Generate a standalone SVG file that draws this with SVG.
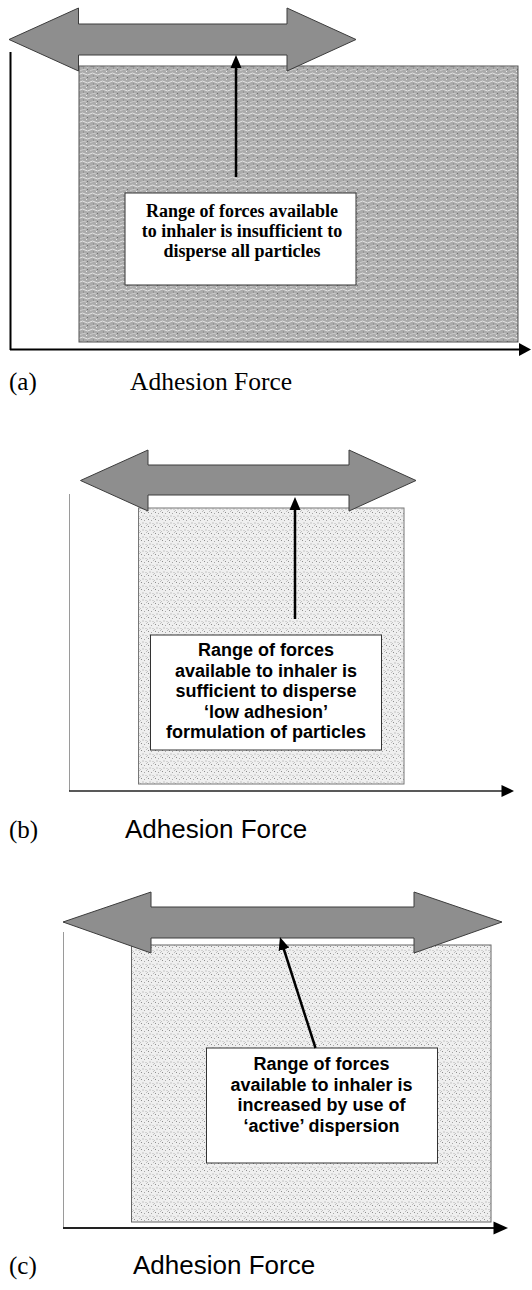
<svg xmlns="http://www.w3.org/2000/svg" width="532" height="1290" viewBox="0 0 532 1290">
<style>
.dbl{fill:#8e8e8e;stroke:#3c3c3c;stroke-width:1}
.box{fill:#fff;stroke:#333;stroke-width:1}
.tb{font-family:"Liberation Serif","Times New Roman",serif;font-weight:bold;font-size:18px;fill:#000;text-anchor:middle}
.ab{font-family:"Liberation Sans",Arial,sans-serif;font-weight:bold;font-size:18px;fill:#000;text-anchor:middle}
.lab{font-family:"Liberation Serif","Times New Roman",serif;font-size:25px;fill:#000}
.xs{font-family:"Liberation Serif","Times New Roman",serif;font-size:25.5px;fill:#000}
.xa{font-family:"Liberation Sans",Arial,sans-serif;font-size:26px;fill:#000}
.conn{stroke:#000;stroke-width:2.5;fill:none;marker-end:url(#ah)}
</style>
<defs>
<marker id="ah" markerWidth="14" markerHeight="12" refX="2" refY="6" orient="auto" markerUnits="userSpaceOnUse">
<path d="M0,0.5 L13,6 L0,11.5 z" fill="#000"/>
</marker>
<pattern id="texA" width="10" height="8" patternUnits="userSpaceOnUse">
<rect width="10" height="8" fill="#ababab"/>
<path d="M0 2 q2.5 -2 5 0 t5 0" stroke="#e4e4e4" stroke-width="1" fill="none"/>
<path d="M-2 6 q2 1.5 4 0 t4 0" stroke="#d2d2d2" stroke-width="0.8" fill="none"/>
<rect x="7" y="5" width="1" height="1" fill="#707070"/>
<rect x="3" y="3.5" width="1" height="1" fill="#808080"/>
<rect x="6" y="7" width="1" height="1" fill="#ececec"/>
</pattern>
<pattern id="texB" width="7" height="7" patternUnits="userSpaceOnUse">
<rect width="7" height="7" fill="#efefef"/>
<rect x="1" y="1" width="1" height="1" fill="#8c8c8c"/>
<rect x="4" y="2" width="1" height="1" fill="#a8a8a8"/>
<rect x="2.5" y="4.5" width="1" height="1" fill="#999"/>
<rect x="5.5" y="5" width="1" height="1" fill="#b5b5b5"/>
<rect x="0" y="6" width="1" height="1" fill="#c0c0c0"/>
<rect x="6" y="0" width="1" height="1" fill="#bdbdbd"/>
</pattern>
</defs>
<rect width="532" height="1290" fill="#fff"/>

<g id="panel-a">
<line x1="10.5" y1="52" x2="10.5" y2="350" stroke="#000" stroke-width="2"/>
<line x1="10" y1="349.5" x2="521" y2="349.5" stroke="#000" stroke-width="2"/>
<polygon points="519,343 531,349.5 519,356" fill="#000"/>
<rect id="dist-a" x="79" y="66" width="439" height="276" fill="url(#texA)" stroke="#555" stroke-width="1"/>
<polygon id="range-a" class="dbl" points="9,39.5 78.5,8 78.5,24 287,24 287,8 356,39.5 287,71 287,55 78.5,55 78.5,71"/>
<g id="box-a">
<rect class="box" x="125" y="193" width="231" height="92"/>
<text class="tb" x="242" y="217">Range of forces available</text>
<text class="tb" x="242" y="237">to inhaler is insufficient to</text>
<text class="tb" x="242" y="257">disperse all particles</text>
</g>
<text class="lab" x="9" y="390">(a)</text>
<text class="xs" x="130" y="390">Adhesion Force</text>
</g>

<g id="panel-b">
<line x1="69.5" y1="494" x2="69.5" y2="791" stroke="#9a9a9a" stroke-width="1"/>
<line x1="69" y1="791" x2="503" y2="791" stroke="#222" stroke-width="1.5"/>
<polygon points="501.5,785 514,791 501.5,797" fill="#000"/>
<rect id="dist-b" x="138.5" y="508" width="265.5" height="276" fill="url(#texB)" stroke="#777" stroke-width="1"/>
<polygon id="range-b" class="dbl" points="80.5,480.5 148,450 148,465 349,465 349,450 416,480.5 349,511 349,495 148,495 148,511"/>
<g id="box-b">
<rect class="box" x="150.5" y="635" width="231" height="115"/>
<text class="ab" x="266" y="656">Range of forces</text>
<text class="ab" x="266" y="676.5">available to inhaler is</text>
<text class="ab" x="266" y="697">sufficient to disperse</text>
<text class="ab" x="266" y="717.5">‘low adhesion’</text>
<text class="ab" x="266" y="738">formulation of particles</text>
</g>
<text class="lab" x="9" y="838">(b)</text>
<text class="xa" x="125" y="838">Adhesion Force</text>
</g>

<g id="panel-c">
<line x1="63.5" y1="932" x2="63.5" y2="1228" stroke="#9a9a9a" stroke-width="1"/>
<line x1="63" y1="1228" x2="495" y2="1228" stroke="#222" stroke-width="1.8"/>
<polygon points="493.5,1221.5 508,1228 493.5,1234.5" fill="#000"/>
<rect id="dist-c" x="131.5" y="945" width="359.5" height="277" fill="url(#texB)" stroke="#666" stroke-width="1"/>
<polygon id="range-c" class="dbl" points="63,922 151,892 151,907 414,907 414,892 502,922 414,953 414,938 151,938 151,953"/>
<g id="box-c">
<rect class="box" x="206.5" y="1048" width="231" height="115"/>
<text class="ab" x="321.5" y="1070">Range of forces</text>
<text class="ab" x="321.5" y="1090.5">available to inhaler is</text>
<text class="ab" x="321.5" y="1111">increased by use of</text>
<text class="ab" x="321.5" y="1131.5">‘active’ dispersion</text>
</g>
<text class="lab" x="9" y="1274">(c)</text>
<text class="xa" x="133" y="1274">Adhesion Force</text>
</g>

<g id="connectors">
<line class="conn" x1="236" y1="177" x2="236" y2="66"/>
<line class="conn" x1="295" y1="619" x2="295" y2="508"/>
<line class="conn" x1="315.5" y1="1048" x2="283.3" y2="947.5"/>
</g>
</svg>
